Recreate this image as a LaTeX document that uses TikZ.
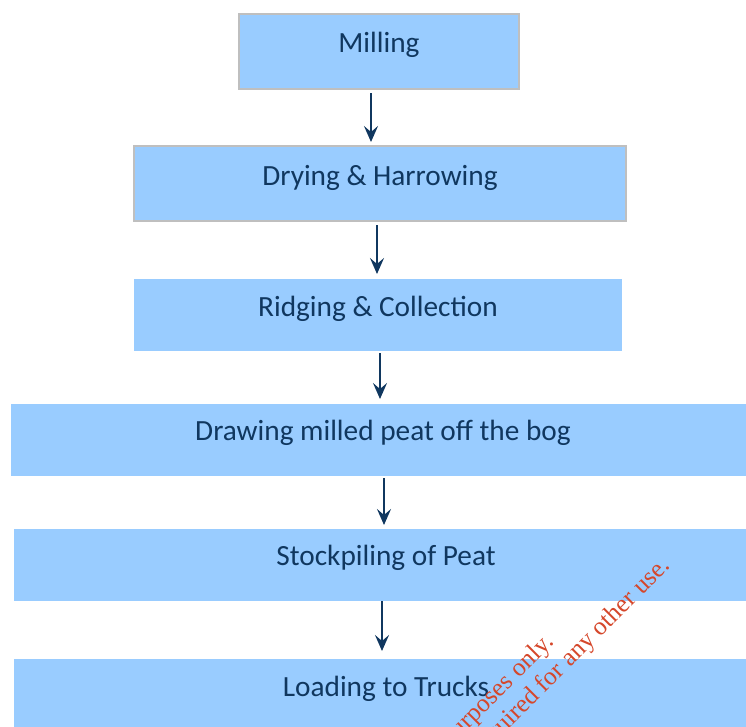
\documentclass[tikz,border=0pt]{standalone}
\usepackage{fontspec}
\setmainfont{Carlito}
\newfontfamily\wmfont{Liberation Serif}
\usetikzlibrary{arrows.meta}
\definecolor{boxfill}{HTML}{99CCFF}
\definecolor{boxline}{HTML}{BFBFBF}
\definecolor{navy}{HTML}{10375F}
\definecolor{wmred}{HTML}{D5472B}
\tikzset{
  stepbox/.style={fill=boxfill, draw=none, inner sep=0pt, outer sep=0pt, rectangle},
  framed/.style={draw=boxline, line width=2pt},
  steptext/.style={anchor=base, text=navy, font=\fontsize{29.3}{34}\selectfont, inner sep=0pt},
  arr/.style={draw=navy, line width=2pt, -{Stealth[length=16pt,width=14pt,inset=6pt]}},
  wm/.style={text=wmred, font=\wmfont\fontsize{25.5}{30}\selectfont, rotate=45, anchor=base east, inner sep=0pt}
}
\begin{document}
\begin{tikzpicture}[x=1pt,y=-1pt]
\useasboundingbox (0,0) rectangle (746,726);
\clip (0,0) rectangle (746,726);
% boxes
\node[stepbox, framed, anchor=north west, minimum width=280pt, minimum height=75pt] (m) at (239,14) {};
\node[stepbox, framed, anchor=north west, minimum width=492pt, minimum height=75pt] (d) at (134,146) {};
\node[stepbox, anchor=north west, minimum width=488pt, minimum height=72pt] (r) at (134,279) {};
\node[stepbox, anchor=north west, minimum width=745pt, minimum height=72pt] (w) at (11,404) {};
\node[stepbox, anchor=north west, minimum width=742pt, minimum height=72pt] (s) at (14,529) {};
\node[stepbox, anchor=north west, minimum width=742pt, minimum height=72pt] (l) at (14,659) {};
% texts
\node[steptext] (mt) at (379,52) {Milling};
\node[steptext] (dt) at (380,185) {Drying \& Harrowing};
\node[steptext] (rt) at (378,316) {Ridging \& Collection};
\node[steptext] (wt) at (383,440) {Drawing milled peat off the bog};
\node[steptext] (st) at (386,565) {Stockpiling of Peat};
\node[steptext] (lt) at (386,696) {Loading to Trucks};
% arrows
\draw[arr] ([xshift=-8pt,yshift=-4pt]m.south) -- ([xshift=-9pt,yshift=4pt]d.north);
\draw[arr] ([xshift=-3pt,yshift=-4pt]d.south) -- ([xshift=-1pt,yshift=5pt]r.north);
\draw[arr] ([xshift=2pt,yshift=-2pt]r.south) -- ([xshift=-3.5pt,yshift=5pt]w.north);
\draw[arr] ([xshift=0.5pt,yshift=-2pt]w.south) -- ([xshift=-1pt,yshift=4pt]s.north);
\draw[arr] ([xshift=-3pt]s.south) -- ([xshift=-3pt,yshift=8pt]l.north);
% watermark
\node[wm] (wm1) at (555,643) {For inspection purposes only.};
\node[wm] (wm2) at (671,567) {Consent of copyright owner required for any other use.};
\end{tikzpicture}
\end{document}
